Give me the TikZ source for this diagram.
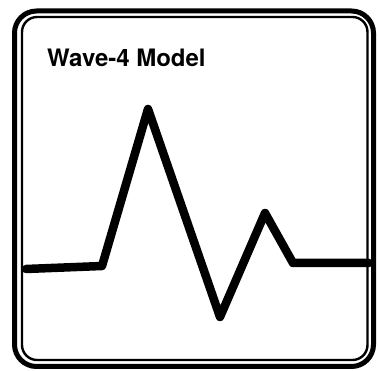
\documentclass[tikz,border=0pt]{standalone}
\usepackage{fontspec}
\setmainfont{TeX Gyre Heros}
\begin{document}
\begin{tikzpicture}[x=1pt,y=-1pt,
  outerframe/.style={line width=5pt,rounded corners=22pt},
  innerframe/.style={line width=2.4pt,rounded corners=15pt},
  wave/.style={line width=8.5pt,line join=round,line cap=round},
  title/.style={font=\fontsize{24}{28}\selectfont\bfseries,anchor=base west,inner sep=0pt}]
\useasboundingbox (0,0) rectangle (378,371);
\draw[outerframe] (14.5,11) rectangle (373.5,366.5);
\draw[innerframe] (22,17) rectangle (367.5,360);
\node[title] (t) at (47,67) {Wave-4 Model};
\coordinate (w0) at (26,269);
\coordinate (w1) at (102,266);
\coordinate (w2) at (148,109);
\coordinate (w3) at (220,317);
\coordinate (w4) at (265,213);
\coordinate (w5) at (293,263);
\coordinate (w6) at (369,263);
\draw[wave] (w0) -- (w1) -- (w2) -- (w3) -- (w4) -- (w5) -- (w6);
\end{tikzpicture}
\end{document}
